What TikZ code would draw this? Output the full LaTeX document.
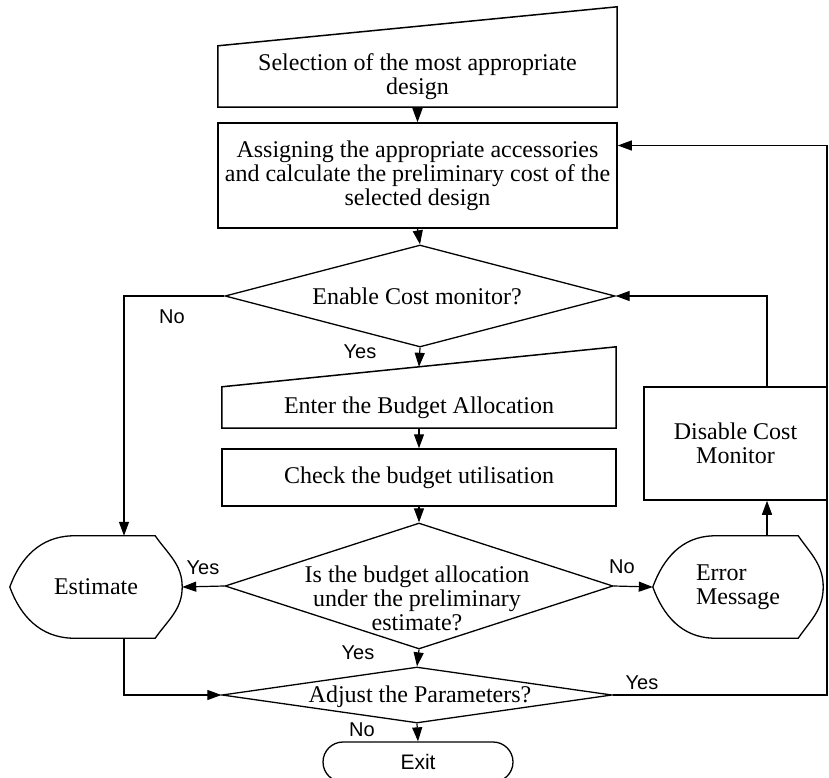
\documentclass[tikz,border=0pt]{standalone}
\usepackage{fontspec}
\setmainfont{Liberation Serif}
\newfontfamily\labfont{Liberation Sans}
\usepackage{tikz}
\usetikzlibrary{shapes.geometric,arrows.meta,calc}
\newcommand\boxfont{\fontsize{24}{24}\selectfont}
\tikzset{
  flow/.style={draw=black, line width=1.2pt, -{Triangle[length=14pt,width=10pt]}},
  outline/.style={draw=black, line width=1.5pt},
  box/.style={rectangle, draw=black, line width=1.5pt, inner sep=0pt, align=center, font=\boxfont},
  inbox/.style={rectangle, inner sep=0pt, align=center, font=\boxfont},
  dec/.style={diamond, draw=black, line width=1.3pt, inner sep=0pt},
  dectxt/.style={inner sep=0pt, align=center, font=\boxfont},
  lab/.style={inner sep=0pt, font=\labfont\fontsize{20}{20}\selectfont},
}

\begin{document}
\begin{tikzpicture}[x=1pt, y=-1pt]
  \useasboundingbox (0,0) rectangle (829,778);
  % manual input boxes: outline drawn after the node
  \node[inbox, minimum width=399pt, minimum height=61pt] (select) at (417.5,76.5)
    {Selection of the most appropriate\\design};
  \draw[outline] (select.south west) -- (select.south east)
    -- ([yshift=39pt]select.north east) -- (select.north west) -- cycle;
  \node[box, minimum width=399pt, minimum height=105pt] (assign) at (417.5,175.5)
    {Assigning the appropriate accessories\\and calculate the preliminary cost of the\\selected design};
  \node[dec, minimum width=390pt, minimum height=102pt] (enable) at (420,296) {};
  \node[dectxt] (enabletxt) at (417,296) {Enable Cost monitor?};
  \node[inbox, minimum width=394pt, minimum height=41pt] (budget) at (419,407.5)
    {Enter the Budget Allocation};
  \draw[outline] (budget.south west) -- (budget.south east)
    -- ([yshift=40pt]budget.north east) -- (budget.north west) -- cycle;
  \node[box, minimum width=394pt, minimum height=57pt] (check) at (419,477.5)
    {Check the budget utilisation};
  \node[dec, minimum width=388pt, minimum height=126pt] (under) at (419,586) {};
  \node[dectxt] (undertxt) at (417,598)
    {Is the budget allocation\\under the preliminary\\estimate?};
  \node[dec, minimum width=390pt, minimum height=56pt] (adjust) at (417,695) {};
  \node[dectxt] (adjusttxt) at (420,697) {Adjust the Parameters?};
  \node[box, minimum width=183pt, minimum height=113pt] (disable) at (735.5,443.5)
    {Disable Cost\\Monitor};
  % display shapes
  \node[inbox, minimum width=172pt, minimum height=102pt] (estimate) at (96,587) {Estimate};
  \draw[outline, line width=1.3pt] ([xshift=62pt]estimate.north west)
    -- ([xshift=-27pt]estimate.north east) to[out=-55,in=90] (estimate.east)
    to[out=-90,in=55] ([xshift=-27pt]estimate.south east)
    -- ([xshift=62pt]estimate.south west) to[out=178,in=-70] (estimate.west)
    to[out=70,in=182] ([xshift=62pt]estimate.north west);
  \node[inbox, align=left, minimum width=170pt, minimum height=102pt] (error) at (738,587)
    {Error\\Message};
  \draw[outline, line width=1.3pt] ([xshift=60pt]error.north west)
    -- ([xshift=-25pt]error.north east) to[out=-55,in=90] (error.east)
    to[out=-90,in=55] ([xshift=-25pt]error.south east)
    -- ([xshift=60pt]error.south west) to[out=178,in=-70] (error.west)
    to[out=70,in=182] ([xshift=60pt]error.north west);
  \node[draw=black, line width=1.3pt, rounded corners=20pt, minimum width=190pt,
    minimum height=40pt, inner sep=0pt, font=\labfont\fontsize{21}{21}\selectfont]
    (exit) at (418,762) {Exit};
  \coordinate (edge) at (827,0);

  \draw[flow] (select.south) -- (assign.north);
  \draw[flow] (assign.south) -- (enable.north);
  \draw[flow] (enable.south) -- ([yshift=20pt]budget.north);
  \draw[flow] (budget.south) -- (check.north);
  \draw[flow] (check.south) -- (under.north);
  \draw[flow] (under.south) -- (adjust.north);
  \draw[flow] (adjust.south) -- (exit.north);
  \draw[flow] (under.west) -- (estimate.east);
  \draw[flow] (under.east) -- (error.west);
  \draw[flow] (enable.west) -| ([xshift=28pt]estimate.north);
  \draw[flow] ([xshift=28pt]estimate.south) |- (adjust.west);
  \draw[flow] ([xshift=29pt]error.north) -- ([xshift=29pt]error.north |- disable.south);
  \draw[flow] ([xshift=29pt]error.north |- disable.north) |- (enable.east);
  \draw[flow] (adjust.east) -- (adjust.east -| edge) |- ([yshift=30pt]assign.east);

  \node[lab] (noenable) at (172,317) {No};
  \node[lab] (yesenable) at (360,352) {Yes};
  \node[lab] (yesunder) at (203,568) {Yes};
  \node[lab] (nounder) at (622,567) {No};
  \node[lab] (yesdown) at (358,653) {Yes};
  \node[lab] (yesadjust) at (642,683) {Yes};
  \node[lab] (noadjust) at (362,730) {No};
\end{tikzpicture}
\end{document}
